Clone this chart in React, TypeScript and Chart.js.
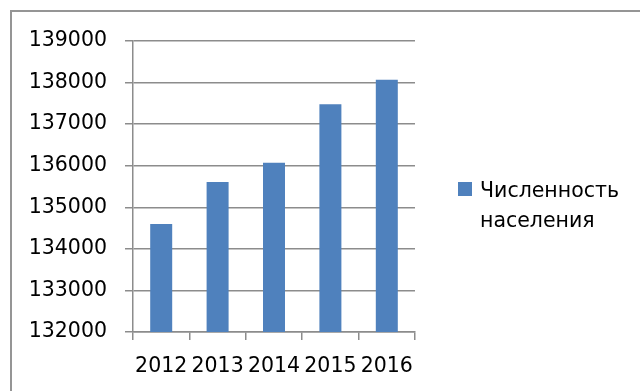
import React, { useEffect, useRef } from "react";
import { Chart, registerables } from "chart.js";

Chart.register(...registerables);

const years = ["2012", "2013", "2014", "2015", "2016"];
const population = [134600, 135610, 136070, 137480, 138070];
const seriesLabel = "Численность населения";
const legendLines = ["Численность", "населения"];
const yMin = 132000;
const yMax = 139000;
const yStep = 1000;

const BAR = "#4F81BD";
const GRID = "#8c8c8c";
const FONT = "'DejaVu Sans', sans-serif";
const FSIZE = 20.5;

const legendPlugin = {
  id: "sideLegend",
  afterDraw(chart: any) {
    const ctx = chart.ctx;
    ctx.save();
    const ds = chart.data.datasets[0];
    ctx.fillStyle = ds.backgroundColor;
    ctx.fillRect(458, 182, 14, 14);
    ctx.fillStyle = "#000";
    ctx.font = `${FSIZE}px ${FONT}`;
    ctx.textAlign = "left";
    ctx.textBaseline = "alphabetic";
    legendLines.forEach((line, i) => {
      ctx.fillText(line, 480, 197 + i * 30);
    });
    ctx.restore();
  },
};

export default function App() {
  const ref = useRef<HTMLCanvasElement>(null);
  useEffect(() => {
    if (!ref.current) return;
    Chart.defaults.font.family = FONT;
    Chart.defaults.font.size = FSIZE;
    Chart.defaults.color = "#000";
    const chart = new Chart(ref.current, {
      type: "bar",
      data: {
        labels: years,
        datasets: [
          {
            label: seriesLabel,
            data: population,
            backgroundColor: BAR,
            categoryPercentage: 1,
            barPercentage: 0.39,
          },
        ],
      },
      options: {
        responsive: false,
        animation: false,
        layout: { padding: { top: 41, right: 225, bottom: 0, left: 0 } },
        plugins: {
          legend: { display: false },
          tooltip: { enabled: false },
          title: { display: false },
        },
        scales: {
          x: {
            afterFit: (s: any) => {
              s.height = 59;
            },
            grid: {
              offset: true,
              drawOnChartArea: false,
              drawTicks: true,
              tickLength: 8,
              color: GRID,
              lineWidth: 1.5,
            },
            border: { display: true, color: GRID, width: 1.5 },
            ticks: {
              autoSkip: false,
              maxRotation: 0,
              minRotation: 0,
              padding: 14,
              font: { size: FSIZE, family: FONT },
              color: "#000",
            },
          },
          y: {
            min: yMin,
            max: yMax,
            afterFit: (s: any) => {
              s.width = 133;
            },
            grid: {
              color: GRID,
              lineWidth: 1.5,
              tickLength: 8,
              drawTicks: true,
            },
            border: { display: true, color: GRID, width: 1.5 },
            ticks: {
              stepSize: yStep,
              padding: 18,
              font: { size: FSIZE, family: FONT },
              color: "#000",
              callback: (v: any) => String(v),
            },
          },
        },
      },
      plugins: [legendPlugin],
    });
    return () => chart.destroy();
  }, []);

  return (
    <div
      style={{
        position: "fixed",
        left: 0,
        top: 0,
        width: 640,
        height: 391,
        overflow: "hidden",
        background: "#fff",
      }}
    >
      <div
        style={{
          position: "absolute",
          left: 10,
          top: 10,
          width: 700,
          height: 500,
          borderTop: "2px solid #959595",
          borderLeft: "2px solid #959595",
        }}
      />
      <canvas
        ref={ref}
        width={640}
        height={391}
        style={{ position: "absolute", left: 0, top: 0 }}
      />
    </div>
  );
}
